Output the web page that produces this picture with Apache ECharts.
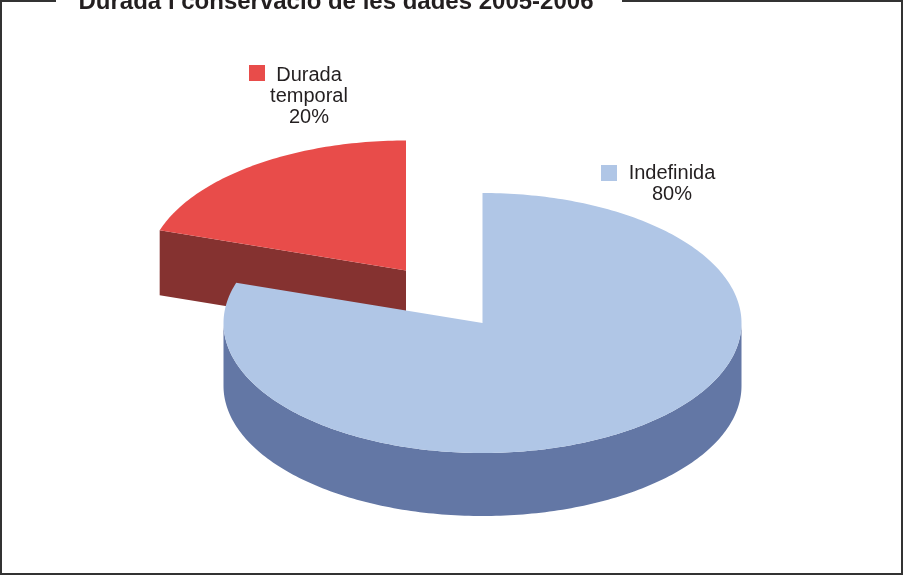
<!DOCTYPE html>
<html>
<head>
<meta charset="utf-8">
<style>
  html, body { margin: 0; padding: 0; background: #fff; }
  #chart { width: 903px; height: 576px; }
</style>
<script src="https://cdn.jsdelivr.net/npm/echarts@6/dist/echarts.min.js"></script>
</head>
<body>
<div id="chart"></div>
<script>
const chartTitle = 'Durada i conservació de les dades 2005-2006';
const categories = ['Durada temporal', 'Indefinida'];
const shares = [20, 80];
const labelLines = [['Durada', 'temporal', '20%'], ['Indefinida', '80%']];

// drawn red first so the big slice covers it, red starts at 288deg clockwise from 12 o'clock
const startAngle = 288;
const radiusX = 259;
const radiusY = 130;
const sliceLook = [
    { cx: 406, cy: 270.5, depth: 65, top: '#e84c4a', side: '#853230', swatch: [249, 65], text: [309, 75] },
    { cx: 482.5, cy: 323, depth: 63, top: '#b0c6e6', side: '#6377a5', swatch: [601, 165], text: [672, 173] }
];

const chart = echarts.init(document.getElementById('chart'));
const total = shares.reduce((a, b) => a + b, 0);

function rimPoint(look, deg, drop) {
    const rad = deg * Math.PI / 180;
    return [look.cx + radiusX * Math.sin(rad), look.cy - radiusY * Math.cos(rad) + (drop || 0)];
}

function arcPoints(look, from, to, drop) {
    const pts = [];
    for (let d = from; d <= to + 0.001; d += 1) {
        pts.push(rimPoint(look, Math.min(d, to), drop));
    }
    return pts;
}

function renderSlice(params, api) {
    const i = params.dataIndex;
    const look = sliceLook[i];
    let before = 0;
    for (let k = 0; k < i; k++) before += shares[k];
    const a0 = startAngle + before / total * 360;
    const a1 = a0 + api.value(1) / total * 360;
    const children = [];

    // cut face of the pulled out slice
    if (i === 0) {
        const edge = rimPoint(look, a0);
        children.push({
            type: 'polygon',
            shape: { points: [edge, [look.cx, look.cy], [look.cx, look.cy + look.depth], [edge[0], edge[1] + look.depth]] },
            style: { fill: look.side }
        });
    } else {
        // outer wall, only the front half of the rim shows
        const wallTop = arcPoints(look, 90, 270);
        const wallBottom = arcPoints(look, 90, 270, look.depth).reverse();
        children.push({
            type: 'polygon',
            shape: { points: wallTop.concat(wallBottom) },
            style: { fill: look.side }
        });
    }

    children.push({
        type: 'polygon',
        shape: { points: [[look.cx, look.cy]].concat(arcPoints(look, a0, a1)) },
        style: { fill: look.top }
    });

    children.push({
        type: 'rect',
        shape: { x: look.swatch[0], y: look.swatch[1], width: 16, height: 16 },
        style: { fill: look.top }
    });

    labelLines[i].forEach((line, n) => {
        children.push({
            type: 'text',
            x: look.text[0],
            y: look.text[1] + n * 21,
            style: {
                text: line,
                fill: '#231f20',
                font: '20px "Liberation Sans", Arial, sans-serif',
                align: 'center',
                verticalAlign: 'middle'
            }
        });
    });

    return { type: 'group', children: children };
}

chart.setOption({
    animation: false,
    backgroundColor: '#ffffff',
    title: {
        text: chartTitle,
        left: 331,
        top: -15,
        textAlign: 'center',
        textStyle: {
            color: '#231f20',
            fontFamily: '"Liberation Sans", Arial, sans-serif',
            fontWeight: 'bold',
            fontSize: 24
        }
    },
    graphic: [{
        type: 'polyline',
        shape: { points: [[56, 1], [1, 1], [1, 574], [902, 574], [902, 1], [622, 1]] },
        style: { stroke: '#333333', lineWidth: 2, fill: null }
    }],
    series: [{
        type: 'custom',
        coordinateSystem: 'none',
        renderItem: renderSlice,
        data: categories.map((name, i) => ({ name: name, value: [i, shares[i]] }))
    }]
});
</script>
</body>
</html>
